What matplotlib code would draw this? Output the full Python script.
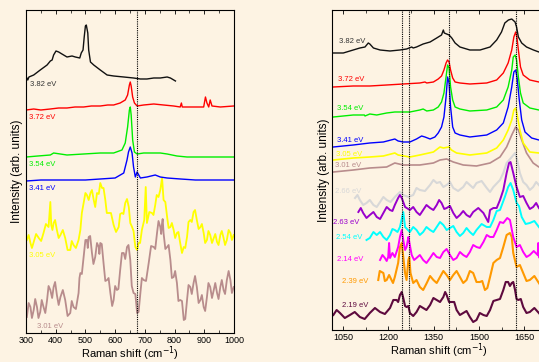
import matplotlib
matplotlib.use("Agg")
import matplotlib.pyplot as plt
from matplotlib.ticker import MultipleLocator

plt.rcParams['font.family'] = ['Liberation Sans', 'DejaVu Sans']

BG = '#FDF3E3'

# ---------------- left panel: 300-1000 cm-1 ----------------
L_black_x = [303, 306, 310, 326, 348, 371, 382, 388, 393, 401, 410, 421, 438, 455, 466, 481, 486, 492, 496, 500, 503, 508, 511, 517, 528, 550, 573, 595, 629, 662, 685, 707, 730, 752, 775, 786, 803]
L_black_y = [255, 253, 256, 258, 263, 268, 272, 273, 278, 282, 281, 279, 276, 277, 276, 275, 280, 283, 296, 307, 308, 300, 283, 271, 268, 263, 258, 257, 256, 255, 254, 254, 255, 255, 256, 255, 252]

L_red_x = [301, 326, 350, 382, 410, 438, 465, 494, 520, 550, 575, 595, 617, 634, 642, 648, 651, 654, 659, 665, 674, 696, 730, 763, 797, 819, 823, 826, 864, 898, 904, 909, 915, 920, 926, 954, 999]
L_red_y = [223, 224, 223, 224, 225, 225, 226, 226, 227, 227, 228, 228, 230, 233, 238, 248, 251, 247, 236, 230, 227, 228, 229, 228, 227, 226, 230, 226, 226, 226, 236, 230, 226, 233, 227, 226, 227]

L_green_x = [301, 340, 382, 393, 438, 494, 550, 595, 623, 634, 642, 648, 651, 654, 659, 665, 674, 696, 718, 752, 775, 808, 842, 887, 943, 999]
L_green_y = [176, 177, 178, 180, 178, 179, 180, 180, 183, 190, 206, 223, 226, 218, 193, 181, 179, 180, 180, 180, 179, 177, 176, 176, 176, 176]

L_blue_x = [301, 350, 400, 450, 500, 550, 600, 629, 640, 645, 651, 657, 662, 668, 674, 685, 707, 735, 752, 775, 820, 870, 920, 960, 999]
L_blue_y = [152, 153, 153, 153, 153, 154, 155, 160, 173, 181, 186, 180, 166, 156, 161, 155, 156, 158, 156, 155, 154, 153, 153, 153, 153]

L_yellow_x = [303, 309, 315, 320, 326, 334, 343, 351, 359, 367, 376, 382, 385, 389, 393, 398, 404, 410, 416, 424,
              432, 440, 449, 454, 460, 468, 477, 483, 488, 494, 500, 505, 511, 517, 522, 528, 533, 539, 545, 550,
              556, 561, 567, 572, 578, 586, 595, 603, 612, 617, 623, 628, 634, 640, 646, 651, 657, 662, 668, 674,
              679, 684, 690, 698, 703, 707, 715, 724, 729, 735, 740, 746, 752, 758, 763, 769, 775, 780, 786, 791,
              797, 802, 808, 813, 819, 825, 831, 836, 842, 847, 853, 858, 864, 869, 875, 881, 887, 892, 898, 903,
              909, 914, 920, 926, 932, 937, 943, 948, 954, 959, 965, 970, 976, 982, 988, 993, 999]
L_yellow_y = [93, 98, 90, 85, 91, 99, 95, 92, 100, 109, 106, 131, 108, 103, 110, 113, 103, 95, 98, 103,
              95, 83, 83, 92, 88, 85, 93, 103, 120, 130, 140, 138, 133, 140, 143, 133, 126, 140, 139, 150,
              145, 145, 133, 120, 120, 120, 108, 101, 106, 119, 120, 119, 130, 134, 126, 110, 106, 102, 86, 83,
              90, 90, 103, 113, 146, 110, 121, 120, 118, 128, 138, 136, 143, 155, 133, 131, 116, 105, 106, 110,
              103, 95, 100, 101, 90, 80, 86, 85, 96, 111, 113, 111, 121, 123, 113, 104, 106, 109, 100, 90,
              93, 102, 98, 90, 95, 99, 91, 88, 98, 102, 95, 88, 93, 103, 100, 93, 98]

L_brown_x = [303, 309, 315, 320, 326, 331, 337, 342, 348, 353, 359, 365, 371, 376, 382, 388, 393, 398, 404, 410,
             416, 424, 432, 440, 449, 454, 460, 468, 477, 480, 483, 488, 494, 500, 505, 508, 511, 516, 522, 527,
             533, 539, 545, 547, 550, 555, 561, 567, 573, 578, 584, 590, 595, 600, 606, 611, 617, 623, 629, 634,
             640, 645, 651, 656, 662, 668, 674, 679, 685, 690, 696, 704, 713, 721, 730, 735, 741, 746, 752, 755,
             758, 760, 763, 769, 775, 780, 786, 791, 797, 802, 808, 813, 819, 825, 831, 836, 842, 847, 853, 858,
             864, 869, 875, 881, 887, 892, 898, 903, 909, 914, 920, 926, 932, 937, 943, 948, 954, 959, 965, 970,
             976, 982, 988, 993, 999]
L_brown_y = [16, 30, 26, 15, 23, 34, 26, 15, 21, 33, 26, 20, 33, 47, 43, 35, 46, 51, 38, 28,
             36, 43, 33, 17, 20, 32, 26, 24, 40, 55, 60, 59, 76, 93, 93, 85, 96, 97, 80, 69,
             76, 90, 86, 79, 90, 89, 70, 52, 53, 55, 40, 27, 33, 47, 43, 44, 63, 80, 80, 74,
             86, 88, 73, 47, 40, 39, 20, 21, 40, 55, 53, 52, 70, 87, 86, 84, 100, 112, 106, 99,
             110, 114, 100, 84, 86, 88, 73, 55, 56, 62, 50, 32, 33, 32, 13, 14, 33, 48, 46, 39,
             50, 57, 46, 30, 33, 38, 26, 22, 36, 50, 46, 35, 43, 50, 40, 34, 46, 53, 43, 39,
             53, 62, 53, 40, 46]

L_labels = ['3.82 eV', '3.72 eV', '3.54 eV', '3.41 eV', '3.05 eV', '3.01 eV']
L_label_x = [313, 311, 311, 311, 311, 336]
L_label_y = [248, 215, 168, 144, 78, 7]
L_marker = [672]

# ---------------- right panel: 1000-1700 cm-1 ----------------
R_black_x = [1017, 1050, 1083, 1105, 1122, 1133, 1138, 1150, 1172, 1205, 1238, 1260, 1277, 1282, 1293, 1315, 1338, 1360, 1376, 1382, 1385, 1393, 1401, 1410, 1421, 1437, 1470, 1504, 1537, 1559, 1575, 1586, 1598, 1609, 1620, 1625, 1631, 1642, 1658, 1681, 1699, 1720]
R_black_y = [277, 277, 280, 282, 283, 287, 286, 282, 280, 279, 280, 281, 283, 282, 283, 286, 288, 292, 295, 300, 297, 296, 295, 292, 287, 283, 280, 280, 283, 290, 298, 307, 310, 311, 308, 303, 293, 287, 283, 280, 278, 277]

R_red_x = [1017, 1083, 1138, 1194, 1249, 1304, 1321, 1327, 1349, 1365, 1376, 1384, 1391, 1396, 1401, 1406, 1413, 1421, 1437, 1470, 1526, 1559, 1581, 1597, 1609, 1616, 1622, 1626, 1631, 1638, 1647, 1669, 1699, 1720]
R_red_y = [243, 244, 244, 245, 246, 247, 248, 247, 248, 251, 254, 260, 267, 270, 268, 260, 252, 248, 247, 246, 247, 250, 257, 267, 280, 293, 298, 293, 280, 263, 255, 250, 248, 247]

R_green_x = [1017, 1083, 1120, 1122, 1138, 1161, 1194, 1221, 1238, 1271, 1304, 1315, 1327, 1349, 1365, 1376, 1384, 1391, 1396, 1401, 1406, 1413, 1421, 1437, 1470, 1526, 1559, 1581, 1597, 1609, 1614, 1620, 1625, 1631, 1638, 1647, 1669, 1699, 1720]
R_green_y = [213, 215, 215, 214, 216, 215, 217, 218, 218, 218, 220, 221, 219, 220, 223, 228, 237, 253, 265, 262, 243, 230, 223, 221, 219, 220, 223, 230, 243, 260, 273, 275, 270, 253, 237, 227, 222, 220, 220]

R_blue_x = [1017, 1083, 1138, 1183, 1221, 1232, 1249, 1271, 1293, 1310, 1321, 1338, 1354, 1365, 1376, 1384, 1391, 1396, 1401, 1406, 1413, 1421, 1437, 1470, 1526, 1559, 1581, 1597, 1609, 1616, 1622, 1627, 1634, 1642, 1653, 1675, 1699, 1720]
R_blue_y = [183, 185, 187, 188, 191, 189, 188, 188, 191, 194, 193, 191, 193, 197, 203, 213, 233, 253, 247, 223, 203, 197, 195, 193, 195, 200, 207, 223, 243, 258, 260, 252, 230, 210, 198, 192, 190, 190]

R_yellow_x = [1017, 1083, 1138, 1183, 1221, 1232, 1271, 1304, 1349, 1371, 1382, 1401, 1409, 1426, 1470, 1526, 1559, 1581, 1597, 1609, 1616, 1622, 1627, 1636, 1647, 1669, 1699, 1720]
R_yellow_y = [170, 172, 173, 174, 177, 175, 173, 175, 178, 183, 182, 183, 180, 177, 175, 177, 182, 190, 200, 210, 220, 222, 215, 200, 187, 178, 177, 176]

R_brown_x = [1017, 1083, 1138, 1194, 1221, 1249, 1304, 1349, 1371, 1393, 1415, 1448, 1492, 1537, 1570, 1592, 1609, 1622, 1631, 1642, 1658, 1680, 1699, 1720]
R_brown_y = [158, 160, 162, 163, 167, 165, 165, 167, 170, 171, 168, 165, 164, 167, 173, 183, 195, 203, 200, 190, 177, 167, 163, 162]

R_grey_x = [1089, 1097, 1105, 1116, 1127, 1138, 1150, 1161, 1172, 1183, 1194, 1207, 1221, 1238, 1249, 1266, 1282, 1293, 1304, 1321,
            1338, 1349, 1360, 1371, 1382, 1393, 1404, 1415, 1431, 1448, 1459, 1470, 1481, 1492, 1509, 1526, 1537, 1548, 1570, 1581,
            1592, 1609, 1620, 1627, 1636, 1647, 1658, 1669, 1680, 1690, 1699, 1710, 1720]
R_grey_y = [132, 135, 130, 125, 127, 130, 125, 123, 128, 133, 130, 128, 133, 138, 135, 133, 135, 142, 140, 139,
            145, 150, 147, 148, 143, 145, 148, 142, 139, 143, 148, 145, 142, 147, 149, 142, 138, 143, 150, 157,
            167, 173, 177, 170, 157, 148, 145, 140, 143, 148, 145, 141, 144]

R_purple_x = [1100, 1108, 1116, 1127, 1138, 1150, 1161, 1172, 1183, 1194, 1205, 1213, 1221, 1232, 1238, 1244, 1255, 1271, 1282, 1293,
              1304, 1315, 1326, 1338, 1349, 1360, 1368, 1376, 1385, 1393, 1404, 1415, 1426, 1437, 1448, 1459, 1470, 1481, 1498, 1515,
              1531, 1537, 1548, 1559, 1570, 1581, 1592, 1600, 1605, 1614, 1625, 1636, 1647, 1658, 1669, 1680, 1690, 1699, 1710, 1720]
R_purple_y = [118, 122, 117, 112, 115, 118, 113, 111, 117, 123, 120, 119, 125, 132, 135, 132, 123, 120, 123, 118,
              115, 120, 125, 122, 120, 125, 130, 127, 121, 122, 124, 117, 112, 115, 119, 115, 113, 118, 122, 117,
              108, 120, 122, 122, 130, 140, 157, 167, 168, 157, 143, 133, 134, 127, 121, 123, 127, 122, 118, 121]

R_cyan_x = [1127, 1138, 1150, 1161, 1172, 1183, 1194, 1205, 1213, 1221, 1230, 1238, 1249, 1255, 1271, 1282, 1293, 1304, 1315, 1326,
            1338, 1349, 1360, 1371, 1382, 1393, 1404, 1415, 1426, 1437, 1448, 1459, 1470, 1481, 1492, 1509, 1526, 1537, 1548, 1559,
            1570, 1586, 1597, 1605, 1614, 1625, 1633, 1642, 1655, 1669, 1684, 1699, 1710, 1720]
R_cyan_y = [90, 92, 98, 95, 98, 93, 90, 95, 101, 100, 98, 103, 118, 103, 98, 103, 100, 95, 98, 103,
            100, 98, 103, 108, 105, 100, 102, 104, 98, 94, 97, 102, 98, 95, 100, 106, 103, 103, 110, 119,
            120, 133, 143, 147, 140, 127, 124, 113, 106, 107, 109, 103, 99, 102]

R_magenta_x = [1172, 1180, 1188, 1194, 1199, 1202, 1205, 1213, 1221, 1232, 1238, 1244, 1249, 1255, 1260, 1266, 1269, 1277, 1285, 1293,
               1304, 1315, 1326, 1338, 1349, 1360, 1371, 1382, 1393, 1404, 1415, 1426, 1437, 1448, 1459, 1470, 1481, 1492, 1503, 1515,
               1526, 1537, 1548, 1559, 1570, 1581, 1594, 1603, 1614, 1625, 1636, 1647, 1658, 1669, 1682, 1695, 1697, 1699, 1710, 1720]
R_magenta_y = [70, 75, 72, 69, 73, 87, 72, 77, 73, 83, 93, 100, 90, 80, 83, 93, 88, 75, 70, 72,
               75, 70, 67, 72, 77, 73, 72, 78, 81, 75, 70, 72, 78, 75, 73, 78, 85, 83, 82, 88,
               95, 93, 93, 100, 108, 107, 112, 110, 93, 83, 85, 78, 73, 75, 79, 75, 87, 73, 69, 73]

R_orange_x = [1166, 1171, 1177, 1183, 1188, 1194, 1202, 1210, 1215, 1221, 1232, 1238, 1244, 1249, 1255, 1260, 1266, 1269, 1273, 1282,
              1293, 1304, 1315, 1327, 1338, 1349, 1360, 1371, 1382, 1393, 1404, 1415, 1426, 1437, 1448, 1459, 1470, 1481, 1492, 1503,
              1511, 1520, 1528, 1537, 1548, 1559, 1570, 1581, 1592, 1603, 1609, 1614, 1625, 1636, 1647, 1658, 1669, 1684, 1699, 1710, 1720]
R_orange_y = [50, 59, 58, 57, 49, 50, 55, 50, 47, 53, 67, 83, 87, 73, 57, 50, 70, 73, 57, 47,
              50, 43, 40, 47, 54, 50, 47, 53, 59, 55, 50, 55, 59, 53, 47, 50, 59, 57, 48, 48,
              49, 40, 42, 53, 67, 70, 72, 83, 95, 97, 93, 77, 63, 65, 57, 49, 50, 54, 47, 42, 47]

R_maroon_x = [1017, 1028, 1039, 1055, 1072, 1088, 1105, 1121, 1138, 1155, 1172, 1188, 1205, 1216, 1227, 1232, 1238, 1244, 1249, 1255,
              1260, 1266, 1271, 1282, 1293, 1304, 1315, 1326, 1338, 1349, 1360, 1371, 1382, 1388, 1393, 1401, 1409, 1418, 1426, 1437,
              1448, 1459, 1470, 1481, 1492, 1503, 1515, 1526, 1537, 1548, 1559, 1570, 1581, 1589, 1597, 1603, 1609, 1614, 1620, 1625,
              1631, 1639, 1647, 1658, 1669, 1684, 1699, 1710, 1720]
R_maroon_y = [15, 20, 17, 12, 15, 18, 13, 11, 17, 22, 18, 16, 22, 30, 30, 28, 35, 38, 32, 24,
              23, 24, 17, 14, 18, 24, 22, 20, 25, 32, 30, 28, 33, 38, 35, 28, 28, 28, 20, 15,
              17, 19, 13, 8, 10, 17, 15, 14, 20, 29, 30, 31, 40, 48, 48, 44, 47, 48, 40, 31,
              30, 31, 23, 17, 18, 22, 17, 13, 16]

R_labels = ['3.82 eV', '3.72 eV', '3.54 eV', '3.41 eV', '3.05 eV', '3.01 eV',
            '2.66 eV', '2.63 eV', '2.54 eV', '2.14 eV', '2.39 eV', '2.19 eV']
R_label_x = [1036, 1033, 1028, 1028, 1026, 1023, 1023, 1017, 1025, 1028, 1045, 1045]
R_label_y = [288, 250, 221, 189, 175, 164, 138, 107, 92, 70, 48, 24]
R_markers = [1244, 1268, 1401, 1624]

# 颜色
c_black, c_red, c_green, c_blue = '#111111', '#FF0000', '#00EE00', '#0000FF'
c_yellow, c_brown, c_grey = '#FFFF00', '#B88C8C', '#D8D8D8'
c_purple, c_cyan, c_magenta = '#9900CC', '#00FFFF', '#FF00FF'
c_orange, c_maroon = '#FF9900', '#5E0A3E'

fig = plt.figure(figsize=(5.39, 3.62), dpi=100, facecolor=BG)

# ---------------------- 左图 ----------------------
ax1 = fig.add_axes([0.0482, 0.0801, 0.3859, 0.8923], facecolor=BG)
ax1.plot(L_brown_x, L_brown_y, color=c_brown, lw=1.3)
ax1.plot(L_yellow_x, L_yellow_y, color=c_yellow, lw=1.3)
ax1.plot(L_blue_x, L_blue_y, color=c_blue, lw=1.0)
ax1.plot(L_green_x, L_green_y, color=c_green, lw=1.0)
ax1.plot(L_red_x, L_red_y, color=c_red, lw=1.0)
ax1.plot(L_black_x, L_black_y, color=c_black, lw=1.0)
for m in L_marker:
    ax1.axvline(m, color='black', ls=(0, (1, 1)), lw=0.8, zorder=5)
L_colors = [c_black, c_red, c_green, c_blue, c_yellow, c_brown]
for t, x, y, c in zip(L_labels, L_label_x, L_label_y, L_colors):
    ax1.text(x, y, t, color='#333333' if c == c_black else c, fontsize=5.5, va='center', ha='left')
ax1.set_xlim(300, 1000)
ax1.set_ylim(0, 323)
ax1.xaxis.set_major_locator(MultipleLocator(100))
ax1.xaxis.set_minor_locator(MultipleLocator(50))
ax1.set_yticks([])
ax1.set_xlabel('Raman shift (cm$^{-1}$)', fontsize=8, labelpad=0)
ax1.set_ylabel('Intensity (arb. units)', fontsize=8.5, labelpad=2)

# ---------------------- 右图 ----------------------
ax2 = fig.add_axes([0.6165, 0.0884, 0.395, 0.884], facecolor=BG)
ax2.plot(R_maroon_x, R_maroon_y, color=c_maroon, lw=1.5)
ax2.plot(R_orange_x, R_orange_y, color=c_orange, lw=1.5)
ax2.plot(R_magenta_x, R_magenta_y, color=c_magenta, lw=1.4)
ax2.plot(R_cyan_x, R_cyan_y, color=c_cyan, lw=1.4)
ax2.plot(R_grey_x, R_grey_y, color=c_grey, lw=1.5)
ax2.plot(R_purple_x, R_purple_y, color=c_purple, lw=1.4)
ax2.plot(R_brown_x, R_brown_y, color=c_brown, lw=1.2)
ax2.plot(R_yellow_x, R_yellow_y, color=c_yellow, lw=1.2)
ax2.plot(R_blue_x, R_blue_y, color=c_blue, lw=1.0)
ax2.plot(R_green_x, R_green_y, color=c_green, lw=1.0)
ax2.plot(R_red_x, R_red_y, color=c_red, lw=1.0)
ax2.plot(R_black_x, R_black_y, color=c_black, lw=1.0)
for m in R_markers:
    ax2.axvline(m, color='black', ls=(0, (1, 1)), lw=0.8, zorder=5)
R_colors = [c_black, c_red, c_green, c_blue, c_yellow, c_brown, c_grey,
            c_purple, c_cyan, c_magenta, c_orange, c_maroon]
for t, x, y, c in zip(R_labels, R_label_x, R_label_y, R_colors):
    ax2.text(x, y, t, color='#333333' if c == c_black else c, fontsize=5.5, va='center', ha='left')
ax2.set_xlim(1013.5, 1720)
ax2.set_ylim(0, 320)
ax2.xaxis.set_major_locator(MultipleLocator(150))
ax2.xaxis.set_minor_locator(MultipleLocator(75))
ax2.set_yticks([])
ax2.set_xlabel('Raman shift (cm$^{-1}$)', fontsize=8, labelpad=0)
ax2.set_ylabel('Intensity (arb. units)', fontsize=8.5, labelpad=2)

for ax in (ax1, ax2):
    ax.tick_params(axis='x', which='both', direction='in', top=True, labelsize=6.5, pad=2)
    ax.tick_params(axis='x', which='major', length=3, width=0.6)
    ax.tick_params(axis='x', which='minor', length=2, width=0.5)
    for s in ax.spines.values():
        s.set_linewidth(0.8)

plt.savefig('out.png', dpi=100, facecolor=BG)
plt.close()
